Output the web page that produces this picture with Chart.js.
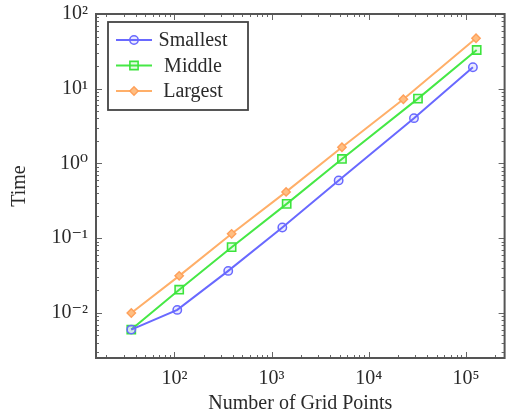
<!DOCTYPE html>
<html>
<head>
<meta charset="utf-8">
<script src="https://cdn.jsdelivr.net/npm/chart.js@4.4.0/dist/chart.umd.min.js"></script>
<style>
html, body { margin: 0; padding: 0; background: #fff; }
#wrap { width: 512px; height: 419px; }
</style>
</head>
<body>
<div id="wrap"><canvas id="myChart" width="512" height="419"></canvas></div>
<script>
// values (log-log)
var smallestX = [36, 107, 358, 1290, 4900, 29200, 118000];
var smallestY = [0.0060, 0.0110, 0.0366, 0.139, 0.594, 4.04, 19.4];
var middleX = [36, 112, 388, 1430, 5300, 32100, 129000];
var middleY = [0.0060, 0.0205, 0.076, 0.288, 1.15, 7.38, 33.0];
var largestX = [36, 112, 388, 1410, 5300, 22700, 127000];
var largestY = [0.0100, 0.0314, 0.1146, 0.417, 1.65, 7.24, 47.3];
var names = ["Smallest", "Middle", "Largest"];
var xTicks = [100, 1000, 10000, 100000];
var yTicks = [0.01, 0.1, 1, 10, 100];
var xTickLabels = ["10²", "10³", "10⁴", "10⁵"];
var yTickLabels = ["10⁻²", "10⁻¹", "10⁰", "10¹", "10²"];

var serif = "'Liberation Serif', 'DejaVu Serif', serif";
var ink = '#2a2a2a';

function pts(xs, ys) {
    return xs.map(function (x, i) { return { x: x, y: ys[i] }; });
}

// pgfplots-like frame with ticks pointing inwards on all four sides
var frameTicks = {
    id: 'frameTicks',
    afterDatasetsDraw: function (chart) {
        var ctx = chart.ctx, a = chart.chartArea;
        var xs = chart.scales.x, ys = chart.scales.y;
        ctx.save();
        ctx.strokeStyle = '#666';
        ctx.lineWidth = 1;
        ctx.beginPath();
        for (var e = Math.floor(Math.log10(xs.min)); e <= Math.ceil(Math.log10(xs.max)); e++) {
            for (var k = 1; k <= 9; k++) {
                var v = k * Math.pow(10, e);
                if (v < xs.min || v > xs.max) continue;
                var px = Math.round(xs.getPixelForValue(v)) + 0.5;
                var len = k == 1 ? 6 : 3;
                ctx.moveTo(px, a.bottom); ctx.lineTo(px, a.bottom - len);
                ctx.moveTo(px, a.top); ctx.lineTo(px, a.top + len);
            }
        }
        for (var e2 = Math.floor(Math.log10(ys.min)); e2 <= Math.ceil(Math.log10(ys.max)); e2++) {
            for (var k2 = 1; k2 <= 9; k2++) {
                var v2 = k2 * Math.pow(10, e2);
                if (v2 < ys.min || v2 > ys.max) continue;
                var py = Math.round(ys.getPixelForValue(v2)) + 0.5;
                var len2 = k2 == 1 ? 6 : 3;
                ctx.moveTo(a.left, py); ctx.lineTo(a.left + len2, py);
                ctx.moveTo(a.right, py); ctx.lineTo(a.right - len2, py);
            }
        }
        ctx.stroke();
        ctx.lineWidth = 2;
        ctx.strokeStyle = '#555';
        ctx.strokeRect(a.left, a.top, a.right - a.left, a.bottom - a.top);
        ctx.restore();
    }
};

// legend box in the upper left corner of the plot
var boxLegend = {
    id: 'boxLegend',
    afterDraw: function (chart) {
        var ctx = chart.ctx, a = chart.chartArea;
        var bx = a.left + 12, by = a.top + 8, bw = 140, bh = 88;
        ctx.save();
        ctx.fillStyle = '#fff';
        ctx.fillRect(bx, by, bw, bh);
        ctx.lineWidth = 1.8;
        ctx.strokeStyle = '#444';
        ctx.strokeRect(bx, by, bw, bh);
        chart.data.datasets.forEach(function (ds, i) {
            var cy = by + 18 + i * 25.5;
            ctx.strokeStyle = ds.borderColor;
            ctx.lineWidth = ds.borderWidth;
            ctx.beginPath();
            ctx.moveTo(bx + 8, cy); ctx.lineTo(bx + 44, cy);
            ctx.stroke();
            var mx = bx + 26;
            ctx.fillStyle = ds.pointBackgroundColor;
            ctx.strokeStyle = ds.pointBorderColor;
            ctx.lineWidth = ds.pointBorderWidth;
            ctx.beginPath();
            if (ds.pointStyle == 'circle') {
                ctx.arc(mx, cy, ds.pointRadius, 0, Math.PI * 2);
            } else if (ds.pointStyle == 'rect') {
                var s = ds.pointRadius * Math.SQRT1_2;
                ctx.rect(mx - s, cy - s, 2 * s, 2 * s);
            } else {
                var r = ds.pointRadius;
                ctx.moveTo(mx, cy - r); ctx.lineTo(mx + r, cy); ctx.lineTo(mx, cy + r); ctx.lineTo(mx - r, cy); ctx.closePath();
            }
            ctx.fill();
            ctx.stroke();
            ctx.fillStyle = ink;
            ctx.font = '20px ' + serif;
            ctx.textAlign = 'center';
            ctx.textBaseline = 'middle';
            ctx.fillText(ds.label, bx + 85, cy + 1);
        });
        ctx.restore();
    }
};

var ctx = document.getElementById('myChart').getContext('2d');
var myChart = new Chart(ctx, {
    type: 'scatter',
    data: {
        datasets: [{
            label: names[0],
            data: pts(smallestX, smallestY),
            showLine: true,
            borderColor: 'rgb(105,105,255)',
            borderWidth: 2,
            pointStyle: 'circle',
            pointRadius: 4.2,
            pointBorderWidth: 1.5,
            pointBackgroundColor: 'rgba(105,105,255,0.15)',
            pointBorderColor: 'rgb(105,105,255)'
        }, {
            label: names[1],
            data: pts(middleX, middleY),
            showLine: true,
            borderColor: 'rgb(70,232,70)',
            borderWidth: 2,
            pointStyle: 'rect',
            pointRadius: 5.8,
            pointBorderWidth: 1.6,
            pointBackgroundColor: 'rgba(70,232,70,0.15)',
            pointBorderColor: 'rgb(60,228,60)'
        }, {
            label: names[2],
            data: pts(largestX, largestY),
            showLine: true,
            borderColor: 'rgb(255,175,105)',
            borderWidth: 2,
            pointStyle: 'rectRot',
            pointRadius: 4.2,
            pointBorderWidth: 1.4,
            pointBackgroundColor: 'rgb(255,190,130)',
            pointBorderColor: 'rgb(255,160,90)'
        }]
    },
    options: {
        responsive: false,
        animation: false,
        layout: { padding: { top: 14, right: 4, left: 0, bottom: 0 } },
        plugins: {
            legend: { display: false },
            tooltip: { enabled: false }
        },
        scales: {
            x: {
                type: 'logarithmic',
                min: 15.6,
                max: 250000,
                grid: { display: false, drawTicks: false },
                border: { display: false },
                afterBuildTicks: function (s) { s.ticks = xTicks.map(function (v) { return { value: v }; }); },
                afterFit: function (s) { s.height = 61; s.paddingLeft = 0; s.paddingRight = 0; },
                ticks: {
                    autoSkip: false,
                    maxRotation: 0,
                    padding: 9,
                    color: ink,
                    font: { family: serif, size: 20 },
                    callback: function (v) { var i = xTicks.indexOf(v); return i < 0 ? '' : xTickLabels[i]; }
                },
                title: {
                    display: true,
                    text: 'Number of Grid Points',
                    color: ink,
                    font: { family: serif, size: 20 },
                    padding: { top: 0, bottom: 3 }
                }
            },
            y: {
                type: 'logarithmic',
                min: 0.0025,
                max: 100,
                grid: { display: false, drawTicks: false },
                border: { display: false },
                afterBuildTicks: function (s) { s.ticks = yTicks.map(function (v) { return { value: v }; }); },
                afterFit: function (s) { s.width = 96; s.paddingTop = 0; s.paddingBottom = 0; },
                ticks: {
                    autoSkip: false,
                    padding: 8,
                    color: ink,
                    font: { family: serif, size: 20 },
                    callback: function (v) { var i = yTicks.indexOf(v); return i < 0 ? '' : yTickLabels[i]; }
                },
                title: {
                    display: true,
                    text: 'Time',
                    color: ink,
                    font: { family: serif, size: 20 },
                    padding: { top: 8, bottom: 0 }
                }
            }
        }
    },
    plugins: [frameTicks, boxLegend]
});
</script>
</body>
</html>
